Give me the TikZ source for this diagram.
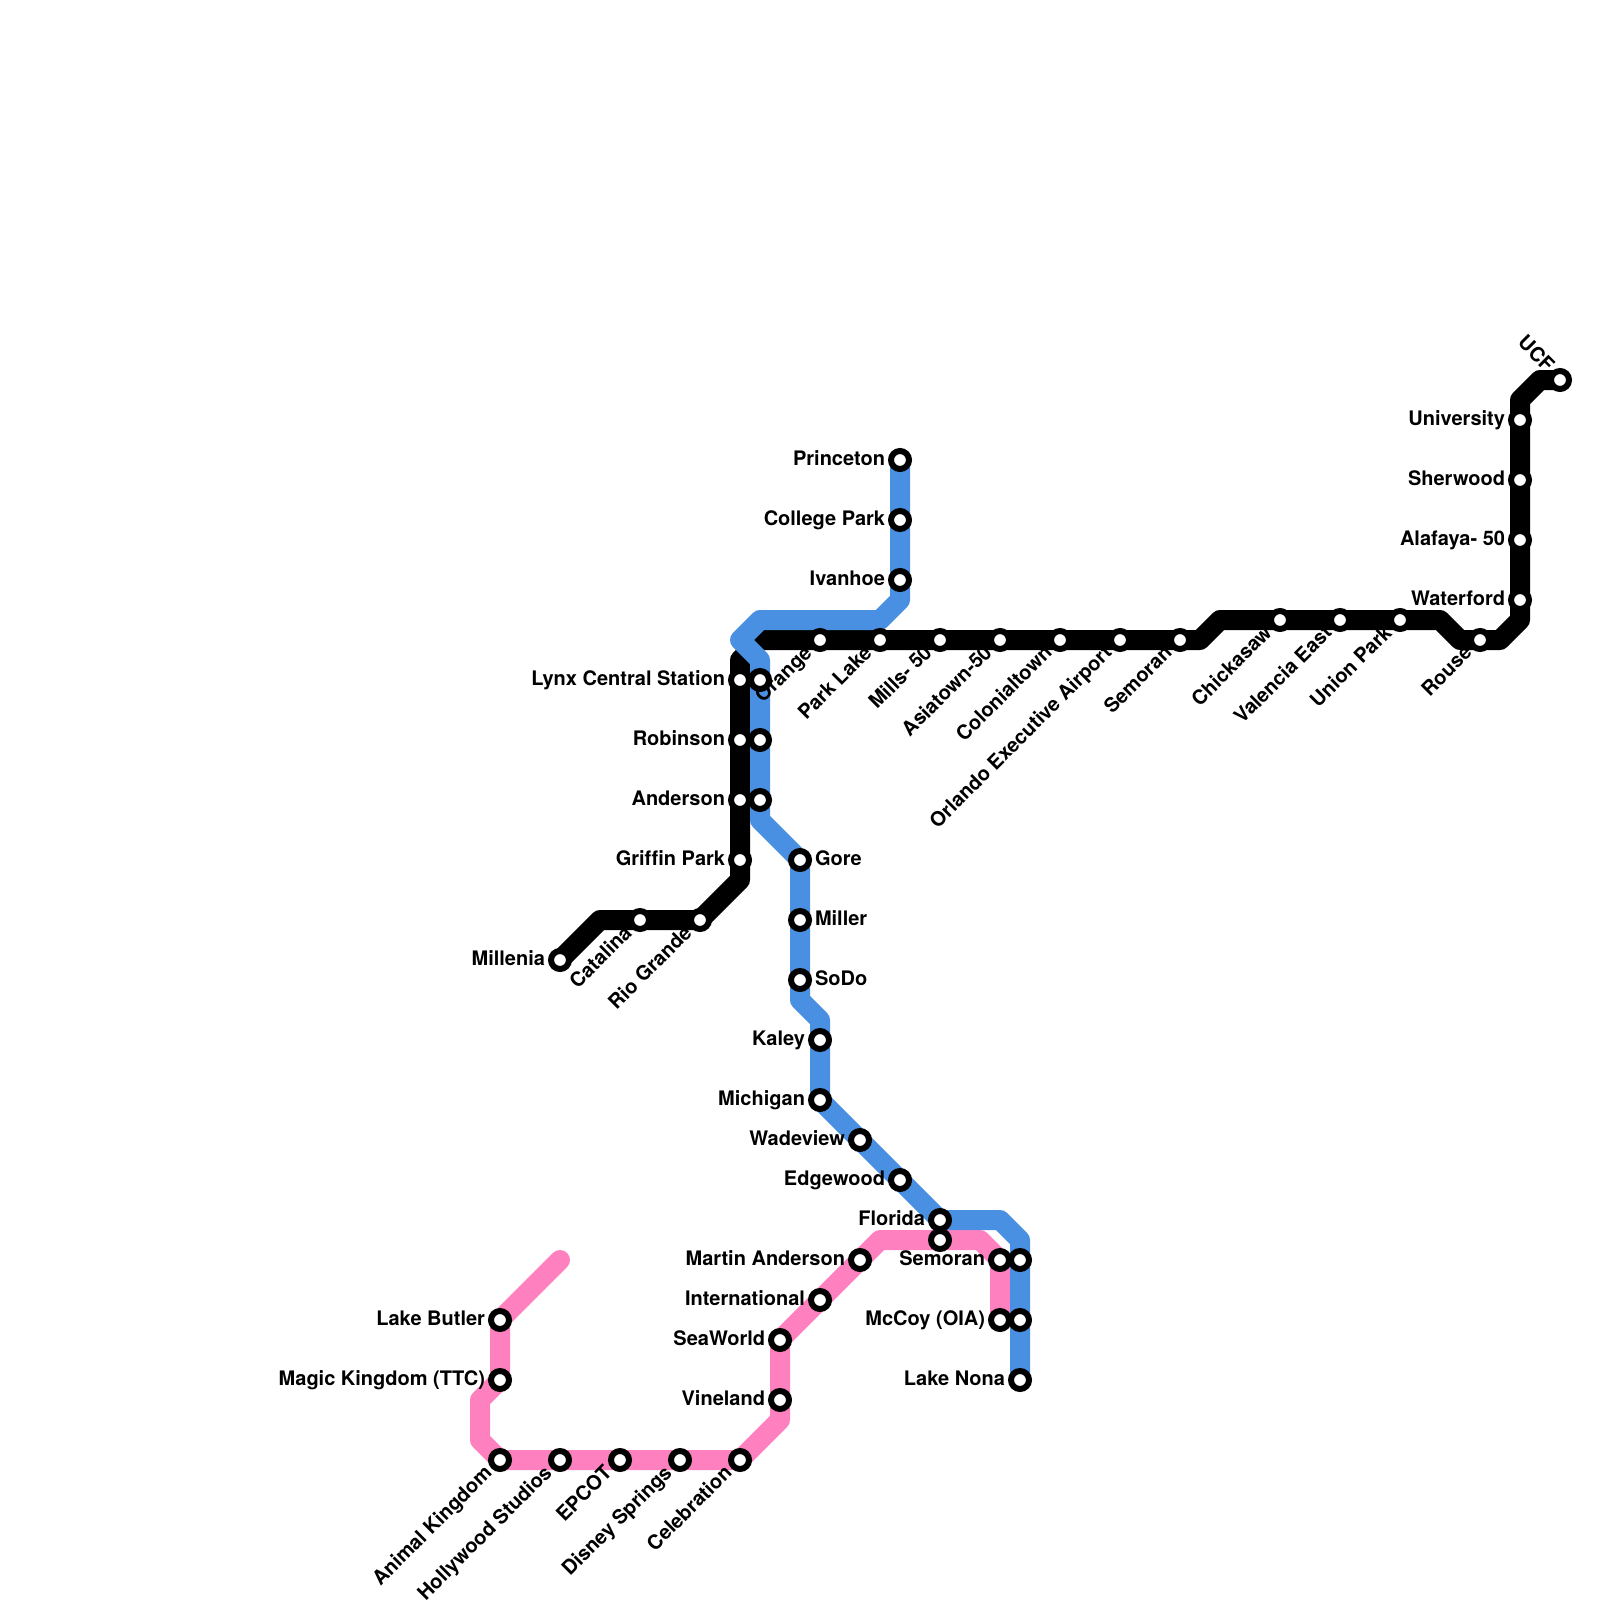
\documentclass[tikz,border=0pt]{standalone}
\usepackage{fontspec}
\setmainfont{TeX Gyre Heros}[Ligatures=NoCommon]
\usetikzlibrary{backgrounds}
\definecolor{lineblue}{HTML}{4A90E2}
\definecolor{linepink}{HTML}{FF80BF}
\tikzset{
  stn/.style={circle,draw=black,fill=white,line width=6pt,inner sep=0pt,outer sep=0pt,minimum size=18pt},
  lbl/.style={inner sep=0pt,outer sep=0pt,font=\bfseries\fontsize{20pt}{20pt}\selectfont,text=black},
  lblL/.style={lbl,anchor=base east,xshift=-15pt,yshift=-5pt},
  lblR/.style={lbl,anchor=base west,xshift=15pt,yshift=-5pt},
  lblD/.style={lbl,anchor=base east,rotate=45,xshift=-15pt,yshift=-5pt},
  lblU/.style={lbl,anchor=base east,rotate=-45,xshift=-15pt,yshift=-5pt},
  route/.style={line width=20pt,line cap=round,line join=round},
}
\newcommand{\stnlab}[5]{\node[stn] (#1) at (#2,#3) {}; \node[#4] (#1-l) at (#1.center) {#5};}
\begin{document}
\begin{tikzpicture}[x=1pt,y=-1pt]
\useasboundingbox (0,0) rectangle (1600,1600);
% black
\stnlab{millenia}{560}{960}{lblL}{Millenia}
\stnlab{catalina}{640}{920}{lblD}{Catalina}
\stnlab{riogrande}{700}{920}{lblD}{Rio Grande}
\stnlab{griffin}{740}{860}{lblL}{Griffin Park}
\stnlab{anderson}{740}{800}{lblL}{Anderson}
\stnlab{robinson}{740}{740}{lblL}{Robinson}
\stnlab{lynx}{740}{680}{lblL}{Lynx Central Station}
\stnlab{orange}{820}{640}{lblD}{Orange}
\stnlab{parklake}{880}{640}{lblD}{Park Lake}
\stnlab{mills}{940}{640}{lblD}{Mills- 50}
\stnlab{asiatown}{1000}{640}{lblD}{Asiatown-50}
\stnlab{colonial}{1060}{640}{lblD}{Colonialtown}
\stnlab{orlandoexec}{1120}{640}{lblD}{Orlando Executive Airport}
\stnlab{semoranb}{1180}{640}{lblD}{Semoran}
\stnlab{chickasaw}{1280}{620}{lblD}{Chickasaw}
\stnlab{valencia}{1340}{620}{lblD}{Valencia East}
\stnlab{unionpark}{1400}{620}{lblD}{Union Park}
\stnlab{rouse}{1480}{640}{lblD}{Rouse}
\stnlab{waterford}{1520}{600}{lblL}{Waterford}
\stnlab{alafaya}{1520}{540}{lblL}{Alafaya- 50}
\stnlab{sherwood}{1520}{480}{lblL}{Sherwood}
\stnlab{university}{1520}{420}{lblL}{University}
\stnlab{ucf}{1560}{380}{lblU}{UCF}
% blue
\stnlab{princeton}{900}{460}{lblL}{Princeton}
\stnlab{collegepark}{900}{520}{lblL}{College Park}
\stnlab{ivanhoe}{900}{580}{lblL}{Ivanhoe}
\node[stn] (lynxb) at (760,680) {};
\node[stn] (robinsonb) at (760,740) {};
\node[stn] (andersonb) at (760,800) {};
\stnlab{gore}{800}{860}{lblR}{Gore}
\stnlab{miller}{800}{920}{lblR}{Miller}
\stnlab{sodo}{800}{980}{lblR}{SoDo}
\stnlab{kaley}{820}{1040}{lblL}{Kaley}
\stnlab{michigan}{820}{1100}{lblL}{Michigan}
\stnlab{wadeview}{860}{1140}{lblL}{Wadeview}
\stnlab{edgewood}{900}{1180}{lblL}{Edgewood}
\stnlab{florida}{940}{1220}{lblL}{Florida}
\node[stn] (semoranblue) at (1020,1260) {};
\node[stn] (mccoyblue) at (1020,1320) {};
\stnlab{lakenona}{1020}{1380}{lblL}{Lake Nona}
% pink
\stnlab{lakebutler}{500}{1320}{lblL}{Lake Butler}
\stnlab{magic}{500}{1380}{lblL}{Magic Kingdom (TTC)}
\stnlab{animal}{500}{1460}{lblD}{Animal Kingdom}
\stnlab{hollywood}{560}{1460}{lblD}{Hollywood Studios}
\stnlab{epcot}{620}{1460}{lblD}{EPCOT}
\stnlab{disney}{680}{1460}{lblD}{Disney Springs}
\stnlab{celebration}{740}{1460}{lblD}{Celebration}
\stnlab{vineland}{780}{1400}{lblL}{Vineland}
\stnlab{seaworld}{780}{1340}{lblL}{SeaWorld}
\stnlab{international}{820}{1300}{lblL}{International}
\stnlab{martin}{860}{1260}{lblL}{Martin Anderson}
\node[stn] (floridap) at (940,1240) {};
\stnlab{semoranp}{1000}{1260}{lblL}{Semoran}
\stnlab{mccoy}{1000}{1320}{lblL}{McCoy (OIA)}
% bends
\coordinate (k1) at (600,920);
\coordinate (k2) at (740,880);
\coordinate (k3) at (740,660);
\coordinate (k4) at (760,640);
\coordinate (k5) at (1200,640);
\coordinate (k6) at (1220,620);
\coordinate (k7) at (1440,620);
\coordinate (k8) at (1460,640);
\coordinate (k9) at (1500,640);
\coordinate (k10) at (1520,620);
\coordinate (k11) at (1520,400);
\coordinate (k12) at (1540,380);
\coordinate (b1) at (900,600);
\coordinate (b2) at (880,620);
\coordinate (b3) at (760,620);
\coordinate (b4) at (740,640);
\coordinate (b5) at (760,660);
\coordinate (b6) at (760,820);
\coordinate (b7) at (800,1000);
\coordinate (b8) at (820,1020);
\coordinate (b9) at (1000,1220);
\coordinate (b10) at (1020,1240);
\coordinate (p0) at (560,1260);
\coordinate (p1) at (480,1400);
\coordinate (p2) at (480,1440);
\coordinate (p3) at (780,1420);
\coordinate (p4) at (880,1240);
\coordinate (p5) at (980,1240);
\begin{pgfonlayer}{background}
\draw[route,black] (millenia.center) -- (k1) -- (riogrande.center) -- (k2) -- (k3) -- (k4) -- (k5) -- (k6) -- (k7) -- (k8) -- (k9) -- (k10) -- (k11) -- (k12) -- (ucf.center);
\draw[route,linepink] (p0) -- (lakebutler.center) -- (magic.center) -- (p1) -- (p2) -- (animal.center) -- (celebration.center) -- (p3) -- (seaworld.center) -- (p4) -- (p5) -- (semoranp.center) -- (mccoy.center);
\draw[route,lineblue] (princeton.center) -- (b1) -- (b2) -- (b3) -- (b4) -- (b5) -- (b6) -- (gore.center) -- (b7) -- (b8) -- (michigan.center) -- (florida.center) -- (b9) -- (b10) -- (lakenona.center);
\end{pgfonlayer}
\end{tikzpicture}
\end{document}
